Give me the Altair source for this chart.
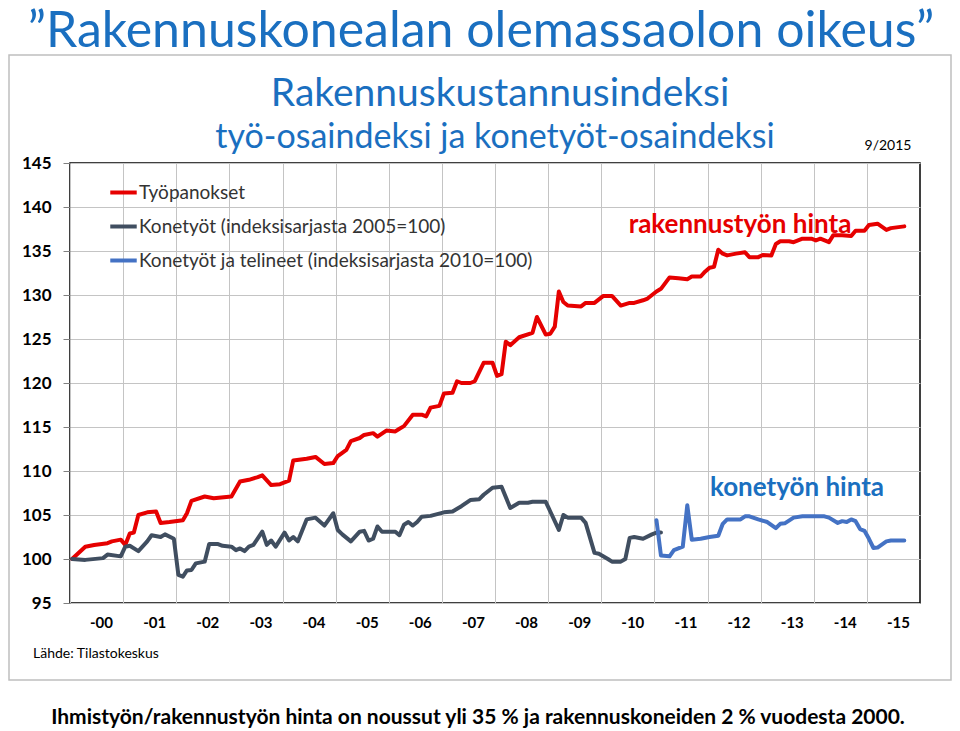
import altair as alt
import pandas as pd

TITLE = "\u201dRakennuskonealan olemassaolon oikeus\u201d"
SUBTITLE_1 = "Rakennuskustannusindeksi"
SUBTITLE_2 = "työ-osaindeksi ja konetyöt-osaindeksi"
DATE_NOTE = "9/2015"
SOURCE = "Lähde: Tilastokeskus"
FOOTER = "Ihmistyön/rakennustyön hinta on noussut yli 35 % ja rakennuskoneiden 2 % vuodesta 2000."
LABEL_RED = "rakennustyön hinta"
LABEL_BLUE = "konetyön hinta"

SERIES = [
    "Työpanokset",
    "Konetyöt (indeksisarjasta 2005=100)",
    "Konetyöt ja telineet (indeksisarjasta 2010=100)",
]
COLORS = ["#e60000", "#404e60", "#4472c4"]

# (months since Jan 2000, index value)
RED_POINTS = [
    (0, 100.0), (3, 101.4), (5, 101.6), (8, 101.8), (9, 102.0), (11, 102.2), (12, 101.6),
    (13, 102.9), (14, 103.0), (15, 105.0), (17, 105.3), (19, 105.4), (20, 104.1), (22, 104.2),
    (25, 104.4), (26, 105.2), (27, 106.6), (30, 107.1), (32, 106.9), (36, 107.1), (38, 108.8),
    (40, 109.0), (42, 109.3), (43, 109.5), (45, 108.4), (47, 108.5), (49, 108.9), (50, 111.2),
    (53, 111.4), (55, 111.6), (57, 110.8), (59, 110.9), (60, 111.7), (62, 112.4), (63, 113.4),
    (65, 113.75), (66, 114.1), (68, 114.3), (69, 113.9), (71, 114.6), (73, 114.5), (74, 114.8),
    (75, 115.1), (77, 116.4), (79, 116.4), (80, 116.2), (81, 117.2), (83, 117.4), (84, 118.8),
    (86, 118.9), (87, 120.2), (88, 120.0), (90, 120.0), (91, 120.2), (93, 122.3), (95, 122.3),
    (96, 120.8), (97, 121.0), (98, 124.7), (99, 124.3), (101, 125.2), (104, 125.7), (105, 127.5),
    (107, 125.5), (108, 125.6), (109, 126.4), (110, 130.4), (111, 129.2), (112, 128.8),
    (115, 128.7), (116, 129.1), (118, 129.1), (120, 129.9), (122, 129.9), (124, 128.8),
    (126, 129.1), (127, 129.1), (129, 129.4), (130, 129.6), (132, 130.4), (133, 130.7),
    (135, 132.0), (137, 131.9), (139, 131.8), (140, 132.1), (142, 132.1), (143, 132.65),
    (144, 133.1), (145, 133.2), (146, 135.15), (147, 134.7), (148, 134.5), (150, 134.7),
    (152, 134.85), (153, 134.3), (155, 134.3), (156, 134.55), (158, 134.5), (159, 135.8),
    (160, 136.1), (162, 136.1), (163, 136.0), (165, 136.4), (167, 136.4), (168, 136.2),
    (169, 136.4), (171, 136.0), (172, 136.8), (174, 136.8), (176, 136.7), (177, 137.3),
    (179, 137.3), (180, 137.95), (182, 138.1), (184, 137.4), (185, 137.6), (188, 137.8),
]

DARK_POINTS = [
    (0, 100.0), (3, 99.9), (7, 100.1), (8, 100.5), (11, 100.3), (12, 101.4), (13, 101.5),
    (15, 100.9), (17, 102.0), (18, 102.7), (20, 102.5), (21, 102.8), (23, 102.3), (24, 98.2),
    (25, 98.0), (26, 98.7), (27, 98.75), (28, 99.5), (30, 99.7), (31, 101.7), (33, 101.7),
    (34, 101.5), (36, 101.4), (37, 101.0), (38, 101.2), (39, 100.9), (40, 101.4), (41, 101.6),
    (43, 103.1), (44, 101.6), (45, 102.1), (46, 101.4), (48, 103.0), (49, 102.1), (50, 102.5),
    (51, 102.0), (53, 104.5), (55, 104.7), (57, 103.8), (59, 105.2), (60, 103.3), (61, 102.8),
    (63, 102.0), (65, 103.1), (66, 103.2), (67, 102.1), (68, 102.3), (69, 103.7), (70, 103.1),
    (73, 103.1), (74, 102.7), (75, 103.9), (76, 104.2), (77, 103.8), (78, 104.2), (79, 104.8),
    (81, 104.9), (84, 105.3), (86, 105.4), (88, 106.0), (90, 106.7), (92, 106.8), (93, 107.3),
    (95, 108.1), (97, 108.2), (99, 105.8), (101, 106.4), (103, 106.4), (104, 106.5),
    (107, 106.5), (108, 105.4), (110, 103.3), (111, 105.0), (112, 104.7), (115, 104.7),
    (116, 104.1), (118, 100.7), (119, 100.6), (121, 100.0), (122, 99.7), (124, 99.7),
    (125, 100.0), (126, 102.4), (127, 102.5), (129, 102.3), (131, 102.8), (132, 103.0),
    (133, 103.0),
]

BLUE_POINTS = [
    (132, 104.4), (133, 100.4), (135, 100.3), (136, 101.0), (138, 101.4), (139, 106.1),
    (140, 102.2), (142, 102.3), (144, 102.5), (146, 102.65), (147, 104.0), (148, 104.5),
    (151, 104.5), (152, 104.85), (153, 104.85), (155, 104.5), (157, 104.2), (159, 103.5),
    (160, 104.0), (161, 104.05), (163, 104.7), (165, 104.85), (170, 104.85), (171, 104.7),
    (173, 104.1), (174, 104.3), (175, 104.2), (176, 104.5), (177, 104.3), (178, 103.4),
    (179, 103.2), (180, 102.3), (181, 101.25), (182, 101.3), (184, 102.0), (185, 102.1),
    (188, 102.1),
]

Y_TICKS = list(range(95, 146, 5))
YEARS = list(range(2000, 2016))

FONT = "Lato"
GRID = "#c4c4c4"
BLUE_TEXT = "#1a6fc0"


def month_to_date(m):
    return f"{2000 + m // 12}-{m % 12 + 1:02d}-15"


rows = []
for name, pts in zip(SERIES, [RED_POINTS, DARK_POINTS, BLUE_POINTS]):
    for m, v in pts:
        rows.append({"date": month_to_date(m), "value": v, "series": name})
df = pd.DataFrame(rows)

lines = alt.Chart(df).mark_line(strokeWidth=4, strokeJoin="round", strokeCap="round").encode(
    x=alt.X(
        "date:T",
        scale=alt.Scale(domain=[alt.DateTime(year=2000, month=1, date=1),
                                alt.DateTime(year=2016, month=1, date=1)]),
        axis=alt.Axis(
            values=[alt.DateTime(year=y, month=1, date=1) for y in YEARS],
            labelExpr="'-' + timeFormat(datum.value, '%y')",
            labelOffset=31, labelFlush=False, labelAngle=0,
            ticks=False, tickSize=0, domain=False,
            grid=True, gridColor=GRID, gridWidth=1,
            labelFont=FONT, labelFontSize=15, labelFontWeight="bold", labelColor="#000",
            labelPadding=12, title=None,
        ),
    ),
    y=alt.Y(
        "value:Q",
        scale=alt.Scale(domain=[95, 145], nice=False, zero=False),
        axis=alt.Axis(
            values=Y_TICKS, domain=False, tickColor="#808080", tickSize=7,
            grid=True, gridColor=GRID, gridWidth=1, labelFlush=False,
            labelFont=FONT, labelFontSize=17, labelFontWeight="bold", labelColor="#000",
            labelPadding=12, title=None,
        ),
    ),
    color=alt.Color(
        "series:N",
        scale=alt.Scale(domain=SERIES, range=COLORS),
        legend=alt.Legend(
            orient="none", legendX=38, legendY=14, title=None,
            labelFont=FONT, labelFontSize=19, labelColor="#333333",
            symbolType="stroke", symbolStrokeWidth=4, symbolSize=700,
            rowPadding=8, labelOffset=0, padding=0, labelLimit=700,
        ),
    ),
)


def text_layer(txt, x, y, size, color, weight="normal", align="center"):
    return alt.Chart(pd.DataFrame({"t": [txt]})).mark_text(
        font=FONT, fontSize=size, fontWeight=weight, color=color,
        align=align, baseline="alphabetic",
    ).encode(text="t:N", x=alt.value(x), y=alt.value(y))


panel = alt.Chart(pd.DataFrame({"a": [0]})).mark_rect(
    fillOpacity=0, stroke="#bfbfbf", strokeWidth=1.5
).encode(x=alt.value(-61), x2=alt.value(881), y=alt.value(-108), y2=alt.value(517))

chart = alt.layer(
    panel,
    lines,
    text_layer(TITLE, 411, -116, 50, BLUE_TEXT),
    text_layer(SUBTITLE_1, 430, -57, 39, BLUE_TEXT),
    text_layer(SUBTITLE_2, 425, -15, 34, BLUE_TEXT),
    text_layer(DATE_NOTE, 818, -13, 14, "#000000"),
    text_layer(LABEL_RED, 670, 70, 26, "#e60000", "bold"),
    text_layer(LABEL_BLUE, 727, 333, 26, BLUE_TEXT, "bold"),
    text_layer(SOURCE, -37, 495, 14, "#000000", "normal", "left"),
    text_layer(FOOTER, 408, 561, 21, "#000000", "bold"),
).properties(
    width=850, height=440,
    autosize=alt.AutoSizeParams(type="none"),
    padding={"left": 62, "top": 155, "right": 32, "bottom": 126},
).configure_view(stroke="#000000", strokeWidth=1.5)

chart.save("out.html", embed_options={"renderer": "svg", "actions": False})
